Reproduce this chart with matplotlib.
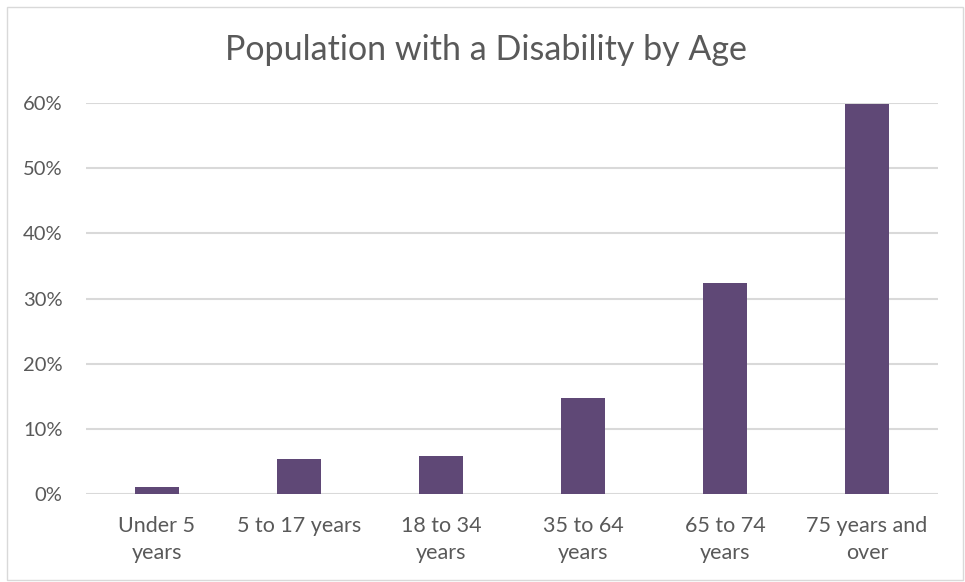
import matplotlib.pyplot as plt
from matplotlib.patches import Rectangle
from matplotlib.ticker import FuncFormatter

categories = ['Under 5\nyears', '5 to 17 years', '18 to 34\nyears',
              '35 to 64\nyears', '65 to 74\nyears', '75 years and\nover']
values = [1.1, 5.4, 5.9, 14.8, 32.4, 59.9]

plt.rcParams['font.family'] = ['Lato', 'DejaVu Sans']
text_color = '#595959'
bar_color = '#5f4876'

fig = plt.figure(figsize=(9.65, 5.82), dpi=100)
ax = fig.add_axes([86 / 965, 1 - 494 / 582, 852 / 965, 391 / 582])

x = range(len(categories))
ax.bar(x, values, width=0.31, color=bar_color, zorder=3)

ax.set_xlim(-0.5, len(categories) - 0.5)
ax.set_ylim(0, 60)
ax.set_yticks(range(0, 61, 10))
ax.yaxis.set_major_formatter(FuncFormatter(lambda v, p: '{:.0f}%'.format(v)))
ax.set_xticks(list(x))
ax.set_xticklabels(categories, fontsize=15.5, color=text_color, linespacing=1.45)
ax.tick_params(axis='y', labelsize=14.5, labelcolor=text_color, length=0, pad=17)
ax.tick_params(axis='x', length=0, pad=16)

ax.grid(axis='y', color='#d9d9d9', linewidth=1.5, zorder=0)
for s in ax.spines.values():
    s.set_visible(False)

fig.text(0.5 + 3 / 965, 1 - 50 / 582, 'Population with a Disability by Age',
         ha='center', va='center', fontsize=24.5, color=text_color)

fig.patches.append(Rectangle((7 / 965, 2 / 582), 1 - 9 / 965, 1 - 9 / 582,
                             transform=fig.transFigure, fill=False,
                             edgecolor='#d9d9d9', linewidth=1))

fig.savefig('out.png', dpi=100)
